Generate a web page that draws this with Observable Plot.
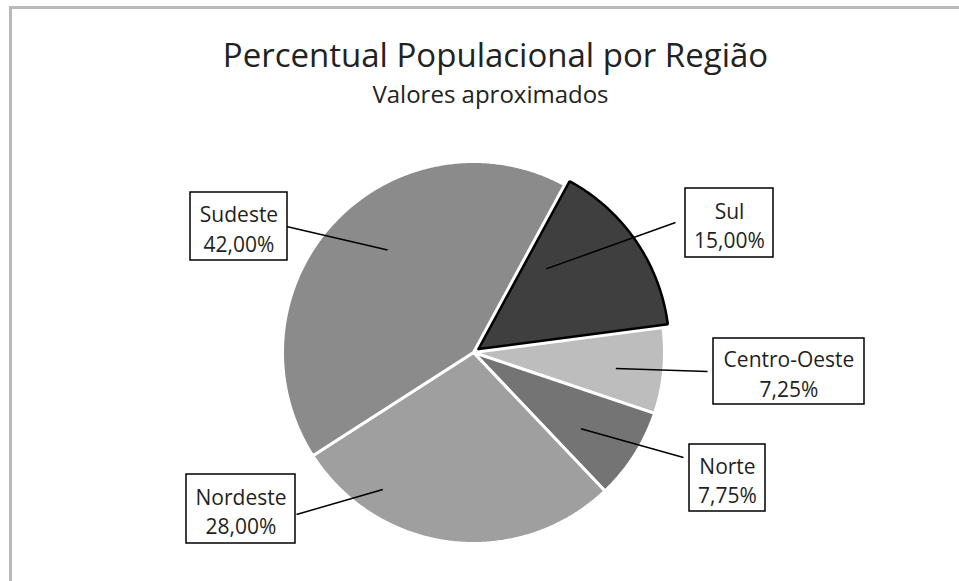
<!DOCTYPE html>
<html><head><meta charset="utf-8">
<script src="https://cdn.jsdelivr.net/npm/d3@7"></script>
<script src="https://cdn.jsdelivr.net/npm/@observablehq/plot@0.6"></script>
<style>
html,body{margin:0;padding:0;background:#fff;overflow:hidden;width:959px;height:581px}
#wrap{position:relative;width:959px;height:581px;overflow:hidden;background:#fff}
#frame{position:absolute;left:9px;top:6px;width:1200px;height:1200px;border-top:3px solid #b9b9b9;border-left:3px solid #b9b9b9;box-sizing:border-box}
#chart{position:absolute;left:0;top:0}
</style></head><body><div id="wrap"><div id="frame"></div><div id="chart"></div></div>
<script>
// ---- data ----
const regions = ["Sul", "Centro-Oeste", "Norte", "Nordeste", "Sudeste"];
const percents = [15.00, 7.25, 7.75, 28.00, 42.00];
const percentLabels = ["15,00%", "7,25%", "7,75%", "28,00%", "42,00%"];
const titleText = "Percentual Populacional por Região";
const subtitleText = "Valores aproximados";

// ---- style / layout ----
const sliceColors = ["#3f3f3f", "#bdbdbd", "#747474", "#9f9f9f", "#8b8b8b"];
const pie = {cx: 473, cy: 352, r: 191, start: 28.5, explode: {"Sul": 6}};
const labelLayout = {
  "Sudeste":      {x1: 190, x2: 287, y1: 192, y2: 260, from: [286, 226], angle: 320, frac: 0.70},
  "Sul":          {x1: 685, x2: 773, y1: 188, y2: 257, from: [675, 222], angle: 41,  frac: 0.58},
  "Centro-Oeste": {x1: 713, x2: 864, y1: 338, y2: 404, from: [707, 371], angle: 96.4, frac: 0.75},
  "Norte":        {x1: 689, x2: 765, y1: 444, y2: 511, from: [683, 457], angle: 125.4, frac: 0.69},
  "Nordeste":     {x1: 186, x2: 295, y1: 474, y2: 543, from: [296, 514], angle: 213.5, frac: 0.86}
};
const rad = Math.PI / 180;

// slice outlines built from the percentages
const sliceRows = [];
let acc = pie.start;
regions.forEach((region, i) => {
  const a0 = acc, a1 = acc + percents[i] * 3.6;
  acc = a1;
  const mid = (a0 + a1) / 2 * rad;
  const e = pie.explode[region] || 0;
  const ox = pie.cx + e * Math.sin(mid), oy = pie.cy - e * Math.cos(mid);
  sliceRows.push({region, x: ox, y: oy});
  const n = Math.ceil((a1 - a0) / 0.5);
  for (let k = 0; k <= n; k++) {
    const a = (a0 + (a1 - a0) * k / n) * rad;
    sliceRows.push({region, x: ox + pie.r * Math.sin(a), y: oy - pie.r * Math.cos(a)});
  }
  sliceRows.push({region, x: ox, y: oy});
});

const labels = regions.map((region, i) => {
  const L = labelLayout[region];
  return {
    region, label: percentLabels[i], ...L,
    lx1: L.from[0], ly1: L.from[1],
    lx2: pie.cx + pie.r * L.frac * Math.sin(L.angle * rad),
    ly2: pie.cy - pie.r * L.frac * Math.cos(L.angle * rad)
  };
});

const chart = Plot.plot({
  width: 959, height: 581,
  margin: 0,
  style: {fontFamily: "'Open Sans', sans-serif", background: "transparent", overflow: "visible"},
  x: {type: "linear", domain: [0, 959], range: [0, 959], axis: null},
  y: {type: "linear", domain: [0, 581], range: [0, 581], axis: null},
  color: {domain: regions, range: sliceColors},
  marks: [
    Plot.line(sliceRows.filter(d => d.region !== "Sul"), {
      x: "x", y: "y", z: "region", fill: "region", stroke: "white",
      strokeWidth: 3, strokeLinejoin: "round", curve: "linear"
    }),
    Plot.line(sliceRows.filter(d => d.region === "Sul"), {
      x: "x", y: "y", z: "region", fill: "region", stroke: "black",
      strokeWidth: 2.5, strokeLinejoin: "miter", curve: "linear"
    }),
    Plot.link(labels, {x1: "lx1", y1: "ly1", x2: "lx2", y2: "ly2", stroke: "black", strokeWidth: 1.5}),
    Plot.rect(labels, {x1: "x1", x2: "x2", y1: "y1", y2: "y2", fill: "white", stroke: "black", strokeWidth: 1.5}),
    Plot.text(labels, {
      x: d => (d.x1 + d.x2) / 2, y: d => (d.y1 + d.y2) / 2 + 1,
      text: d => d.region + "\n" + d.label,
      fontSize: 21, lineHeight: 1.4, lineAnchor: "middle", textAnchor: "middle", fill: "#1f1f1f"
    }),
    Plot.text([{t: titleText, x: 495, y: 66}], {
      x: "x", y: "y", text: "t", fontSize: 33, lineAnchor: "bottom", textAnchor: "middle", fill: "#222222"
    }),
    Plot.text([{t: subtitleText, x: 490, y: 102}], {
      x: "x", y: "y", text: "t", fontSize: 24, lineAnchor: "bottom", textAnchor: "middle", fill: "#222222"
    })
  ]
});
document.getElementById("chart").appendChild(chart);
</script>
</body></html>
